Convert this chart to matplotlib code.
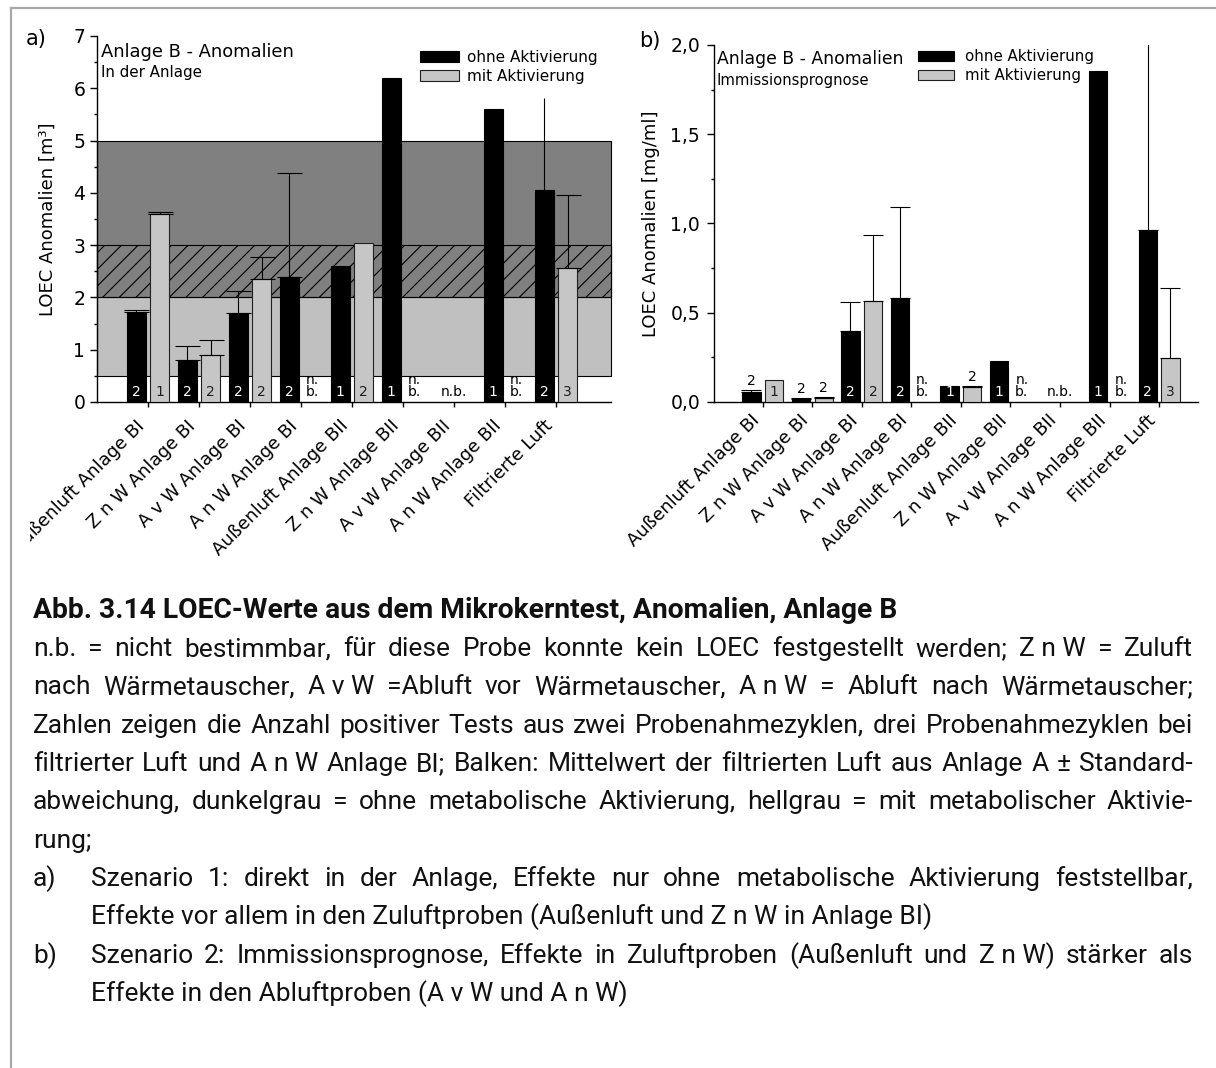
import numpy as np
import matplotlib
matplotlib.use("Agg")
import matplotlib.pyplot as plt
from matplotlib.lines import Line2D
from matplotlib.ticker import MultipleLocator, FuncFormatter
from matplotlib.transforms import Bbox, TransformedBbox, ScaledTranslation

W, H = 1216, 1068

categories = [
    "Außenluft Anlage BI", "Z n W Anlage BI", "A v W Anlage BI", "A n W Anlage BI",
    "Außenluft Anlage BII", "Z n W Anlage BII", "A v W Anlage BII", "A n W Anlage BII",
    "Filtrierte Luft",
]

# a) LOEC in der Anlage [m³]; None = n.b.
a_ohne = [1.73, 0.81, 1.71, 2.40, 2.60, 6.20, None, 5.60, 4.05]
a_ohne_err = [0.03, 0.27, 0.41, 1.98, 0, 0, 0, 0, 1.77]
a_mit = [3.60, 0.90, 2.35, None, 3.05, None, None, None, 2.57]
a_mit_err = [0.03, 0.28, 0.43, 0, 0, 0, 0, 0, 1.38]

# b) Immissionsprognose [mg/ml]
b_ohne = [0.054, 0.017, 0.40, 0.58, 0.091, 0.23, None, 1.854, 0.963]
b_ohne_err = [0.011, 0.005, 0.163, 0.51, 0, 0, 0, 0, 1.10]
b_mit = [0.123, 0.020, 0.566, None, 0.085, None, None, None, 0.245]
b_mit_err = [0, 0.006, 0.367, 0, 0.005, 0, 0, 0, 0.396]

# number of positive tests
n_ohne = [2, 2, 2, 2, 1, 1, None, 1, 2]
n_mit = [1, 2, 2, None, 2, None, None, None, 3]

# filtered air of plant A, mean +- sd
band_ohne = (2.0, 5.0)
band_mit = (0.5, 3.0)

caption_title = "Abb. 3.14 LOEC-Werte aus dem Mikrokerntest, Anomalien, Anlage B"
caption_lines = [
    ("n.b. = nicht bestimmbar, für diese Probe konnte kein LOEC festgestellt werden; Z\u00a0n\u00a0W = Zuluft", True),
    ("nach Wärmetauscher, A\u00a0v\u00a0W =Abluft vor Wärmetauscher, A\u00a0n\u00a0W = Abluft nach Wärmetauscher;", True),
    ("Zahlen zeigen die Anzahl positiver Tests aus zwei Probenahmezyklen, drei Probenahmezyklen bei", True),
    ("filtrierter Luft und A\u00a0n\u00a0W Anlage BI; Balken: Mittelwert der filtrierten Luft aus Anlage A ± Standard-", True),
    ("abweichung, dunkelgrau = ohne metabolische Aktivierung, hellgrau = mit metabolischer Aktivie-", True),
    ("rung;", False),
]
scenarios = [
    ("a)", "Szenario 1: direkt in der Anlage, Effekte nur ohne metabolische Aktivierung feststellbar,",
     "Effekte vor allem in den Zuluftproben (Außenluft und Z\u00a0n\u00a0W in Anlage BI)"),
    ("b)", "Szenario 2: Immissionsprognose, Effekte in Zuluftproben (Außenluft und Z\u00a0n\u00a0W) stärker als",
     "Effekte in den Abluftproben (A\u00a0v\u00a0W und A\u00a0n\u00a0W)"),
]

plt.rcParams["font.family"] = ["DejaVu Sans"]
plt.rcParams["hatch.color"] = "black"
plt.rcParams["hatch.linewidth"] = 0.8

WIDTH = 0.37
OFF = 0.23
SMALL = 10


def px(x, y):
    return x / W, 1 - y / H


def draw_panel(ax, ohne, ohne_err, mit, mit_err, capsize, low_cut, nocap=()):
    x = np.arange(len(categories))
    ohne = np.array(ohne, dtype=float)
    mit = np.array(mit, dtype=float)
    b1 = ax.bar(x - OFF, ohne, WIDTH, color="black", edgecolor="black", linewidth=0.8,
                zorder=3, label="ohne Aktivierung")
    b2 = ax.bar(x + OFF, mit, WIDTH, color="#c6c6c6", edgecolor="#202020", linewidth=0.8,
                zorder=3, label="mit Aktivierung")

    for xs, vals, errs in ((x - OFF, ohne, ohne_err), (x + OFF, mit, mit_err)):
        for i, (xi, v, e) in enumerate(zip(xs, vals, errs)):
            if np.isnan(v) or e <= 0:
                continue
            cs = 0 if (xs[0] < 0 and i in nocap) else capsize
            ax.errorbar(xi, v, yerr=[[0], [e]], fmt="none", ecolor="black",
                        elinewidth=0.8, capsize=cs, capthick=0.8, zorder=4)

    def count(xi, v, e, n, col):
        if n is None:
            return
        if v < low_cut:
            ax.annotate(str(n), (xi, v + e), xytext=(0, 1.5), textcoords="offset points",
                        ha="center", va="bottom", fontsize=SMALL, color="black")
        else:
            ax.annotate(str(n), (xi, 0), xytext=(0, 7), textcoords="offset points",
                        ha="center", va="center", fontsize=SMALL, color=col)

    for i in range(len(categories)):
        count(x[i] - OFF, ohne[i], ohne_err[i], n_ohne[i], "white")
        count(x[i] + OFF, mit[i], mit_err[i], n_mit[i], "#202020")
        if np.isnan(ohne[i]) and np.isnan(mit[i]):
            ax.annotate("n.b.", (x[i], 0), xytext=(0, 7), textcoords="offset points",
                        ha="center", va="center", fontsize=SMALL)
        elif np.isnan(mit[i]):
            ax.annotate("n.", (x[i] + OFF, 0), xytext=(0, 16), textcoords="offset points",
                        ha="center", va="center", fontsize=SMALL)
            ax.annotate("b.", (x[i] + OFF, 0), xytext=(0, 7), textcoords="offset points",
                        ha="center", va="center", fontsize=SMALL)

    ax.set_xticks(x, categories)
    for s in ("top", "right"):
        ax.spines[s].set_visible(False)
    for s in ("left", "bottom"):
        ax.spines[s].set_linewidth(1.0)
    ax.tick_params(axis="y", which="major", direction="out", length=5, width=1, labelsize=13.5)
    ax.tick_params(axis="y", which="minor", direction="out", length=2.5, width=1)
    ax.tick_params(axis="x", direction="out", length=3.6, width=1, labelsize=13)
    for lab in ax.get_xticklabels():
        lab.set_rotation(45)
        lab.set_ha("right")
        lab.set_va("top")
        lab.set_transform(lab.get_transform() + ScaledTranslation(0.05, 0, fig.dpi_scale_trans))
    return b1, b2


fig = plt.figure(figsize=(W / 100, H / 100), dpi=100)

# --- a) in der Anlage ---
ax_a = fig.add_axes([97 / W, 1 - 402 / H, (611 - 97) / W, (402 - 36) / H])
ax_a.set_xlim(-1.0, 9.08)
ax_a.set_ylim(0, 7)
ax_a.axhspan(*band_mit, facecolor="#c0c0c0", edgecolor="black", linewidth=0.8, zorder=0.5, clip_on=False)
ax_a.axhspan(*band_ohne, facecolor="#808080", edgecolor="black", linewidth=0.8, zorder=0.6, clip_on=False)
ax_a.axhspan(band_ohne[0], band_mit[1], facecolor="none", edgecolor="black", hatch="//",
             linewidth=0.8, zorder=0.7, clip_on=False)
bars_a = draw_panel(ax_a, a_ohne, a_ohne_err, a_mit, a_mit_err, capsize=9, low_cut=0.3, nocap=(8,))
ax_a.yaxis.set_major_locator(MultipleLocator(1))
ax_a.yaxis.set_minor_locator(MultipleLocator(0.5))
ax_a.tick_params(axis="y", pad=3.5)
ax_a.tick_params(axis="x", pad=7)
ax_a.set_ylabel("LOEC Anomalien [m³]", fontsize=13)
ax_a.yaxis.set_label_coords(-0.078, 0.5)
# the chart image is cut at its left edge
clip = TransformedBbox(Bbox.from_extents(30 / W, 0, 1, 1), fig.transFigure)
for lab in ax_a.get_xticklabels():
    lab.set_clip_box(clip)
    lab.set_clip_on(True)
ax_a.legend(bars_a, ["ohne Aktivierung", "mit Aktivierung"], loc="upper left",
            bbox_to_anchor=px(420, 50), bbox_transform=fig.transFigure, frameon=False,
            fontsize=11, borderpad=0, borderaxespad=0, handlelength=2.55, handleheight=0.72,
            handletextpad=0.55, labelspacing=0.26)

# --- b) Immissionsprognose ---
ax_b = fig.add_axes([714 / W, 1 - 402 / H, (1198 - 714) / W, (402 - 45) / H])
ax_b.set_xlim(-0.984, 8.786)
ax_b.set_ylim(0, 2.0)
bars_b = draw_panel(ax_b, b_ohne, b_ohne_err, b_mit, b_mit_err, capsize=7, low_cut=0.088)
ax_b.yaxis.set_major_locator(MultipleLocator(0.5))
ax_b.yaxis.set_minor_locator(MultipleLocator(0.25))
ax_b.yaxis.set_major_formatter(FuncFormatter(lambda v, p: f"{v:.1f}".replace(".", ",")))
ax_b.tick_params(axis="y", pad=5)
ax_b.tick_params(axis="x", pad=3)
ax_b.set_ylabel("LOEC Anomalien [mg/ml]", fontsize=13)
ax_b.yaxis.set_label_coords(-0.1126, 0.5)
ax_b.legend(bars_b, ["ohne Aktivierung", "mit Aktivierung"], loc="upper left",
            bbox_to_anchor=px(918, 49), bbox_transform=fig.transFigure, frameon=False,
            fontsize=10.8, borderpad=0, borderaxespad=0, handlelength=2.42, handleheight=0.65,
            handletextpad=0.72, labelspacing=0.26)

# panel titles
fig.text(*px(101, 57), "Anlage B - Anomalien", fontsize=12.9, va="baseline")
fig.text(*px(101, 77), "In der Anlage", fontsize=10.9, va="baseline")
fig.text(*px(717, 64), "Anlage B - Anomalien", fontsize=12.4, va="baseline")
fig.text(*px(717, 85), "Immissionsprognose", fontsize=10.6, va="baseline")
fig.text(*px(26, 45), "a)", fontsize=15, va="baseline")
fig.text(*px(639, 47), "b)", fontsize=15, va="baseline")

# page frame
fig.add_artist(Line2D([11 / W, 11 / W], [0, 1 - 8 / H], color="#a8a8a8", lw=1.6))
fig.add_artist(Line2D([11 / W, 1], [1 - 8 / H, 1 - 8 / H], color="#a8a8a8", lw=1.6))

# --- caption, justified between x0 and x1 ---
renderer = fig.canvas.get_renderer()
cap_kw = dict(family=["Roboto", "DejaVu Sans"], fontsize=19, va="baseline", color="#111111")


def put_line(text, x0, x1, y, justify):
    words = text.split(" ")
    if not justify or len(words) < 2:
        fig.text(*px(x0, y), text, **cap_kw)
        return
    widths = []
    for w in words:
        t = fig.text(0, 0, w, **cap_kw)
        widths.append(t.get_window_extent(renderer).width)
        t.remove()
    gap = max((x1 - x0 - sum(widths)) / (len(words) - 1), 3)
    xc = x0
    for w, wd in zip(words, widths):
        fig.text(*px(xc, y), w, **cap_kw)
        xc += wd + gap


X0, X1, X_IND = 33, 1193, 91
STEP = 38.35
fig.text(*px(X0, 617.5), caption_title, family=["Roboto", "DejaVu Sans"], fontsize=20.3,
         fontweight="bold", va="baseline", color="#111111")
y = 656
for text, just in caption_lines:
    put_line(text, X0, X1, y, just)
    y += STEP
for tag, first, second in scenarios:
    fig.text(*px(X0, y), tag, **cap_kw)
    put_line(first, X_IND, X1, y, True)
    y += STEP
    put_line(second, X_IND, X1, y, False)
    y += STEP

fig.savefig("out.png", dpi=100)
